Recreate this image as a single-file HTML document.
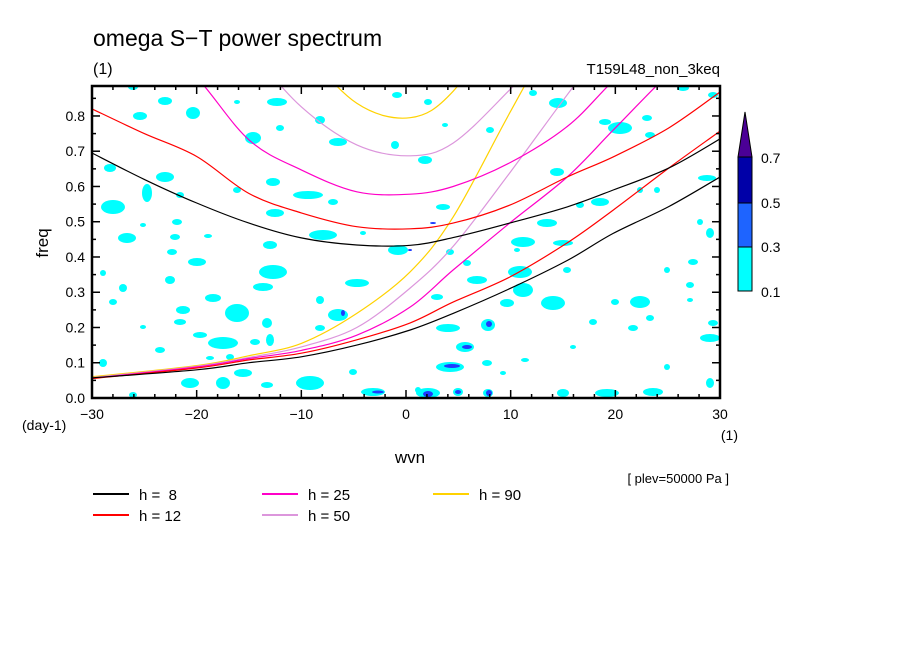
<!DOCTYPE html>
<html><head><meta charset="utf-8">
<style>
html,body{margin:0;padding:0;background:#fff;}
svg{display:block;font-family:"Liberation Sans",sans-serif;}
</style></head>
<body>
<svg id="chart" width="904" height="654" viewBox="0 0 904 654" xmlns="http://www.w3.org/2000/svg">
<defs><clipPath id="plotclip"><rect x="92" y="86" width="628" height="312"/></clipPath></defs>
<rect x="0" y="0" width="904" height="654" fill="#fff"/>
<text x="93" y="46" font-size="23">omega S−T power spectrum</text>
<text x="93" y="74" font-size="16">(1)</text>
<text x="720" y="74" font-size="15" text-anchor="end">T159L48_non_3keq</text>
<g id="blobs" clip-path="url(#plotclip)"></g>
<g id="curves" clip-path="url(#plotclip)"></g>
<g id="axes"></g>
<text transform="translate(48,243) rotate(-90)" font-size="17" text-anchor="middle">freq</text>
<text x="22" y="430" font-size="14">(day-1)</text>
<text x="410" y="463" font-size="17" text-anchor="middle">wvn</text>
<text x="738" y="440" font-size="14" text-anchor="end">(1)</text>
<text x="729" y="483" font-size="13" text-anchor="end">[ plev=50000 Pa ]</text>
<g id="colorbar">
<polygon points="738,157 752,157 745,112" fill="#4b0096" stroke="#000"/>
<rect x="738" y="157" width="14" height="46" fill="#0000a8" stroke="#000"/>
<rect x="738" y="203" width="14" height="44" fill="#1e64ff" stroke="#000"/>
<rect x="738" y="247" width="14" height="44" fill="#00ffff" stroke="#000"/>
<text x="761" y="163" font-size="14">0.7</text>
<text x="761" y="208" font-size="14">0.5</text>
<text x="761" y="252" font-size="14">0.3</text>
<text x="761" y="297" font-size="14">0.1</text>
</g>
<g id="legend"></g>
</svg>
<script>
const NS="http://www.w3.org/2000/svg";
// axis ranges
const xTicks=[-30,-20,-10,0,10,20,30];
const yTicks=[0.0,0.1,0.2,0.3,0.4,0.5,0.6,0.7,0.8];
const X0=92,X1=720,Y0=398,Y1=86;
const xMin=-30,xMax=30,yMin=0,yMax=0.885;
function xs(k){return X0+(k-xMin)/(xMax-xMin)*(X1-X0);}
function ys(f){return Y0-(f-yMin)/(yMax-yMin)*(Y0-Y1);}
// dispersion curves data (wavenumber, frequency)
const igK=[-30,-25,-20,-15,-10,-4.7,0.4,4.5,9.9,15.4,19.8,25.1,30];
const h8_ig=[0.695,0.62,0.553,0.496,0.454,0.434,0.433,0.455,0.496,0.542,0.59,0.652,0.735];
const h12_ig=[0.82,0.75,0.685,0.58,0.525,0.486,0.48,0.496,0.547,0.627,0.684,0.766,0.868];
const h25_ig=[1.2,1.05,0.91,0.732,0.647,0.585,0.578,0.6,0.667,0.77,0.9,1.05,1.2];
const h50_ig=[1.5,1.3,1.15,0.99,0.826,0.718,0.687,0.723,0.874,1.05,1.2,1.35,1.5];
const h90_ig=[1.8,1.6,1.4,1.2,1.0,0.836,0.795,0.87,1.1,1.3,1.5,1.7,1.8];
const kvK=[-30,-20,-15,-10,-4.7,0.4,4.5,9.9,15.4,19.8,25.1,30];
const h8_kv=[0.057,0.08,0.1,0.117,0.15,0.193,0.24,0.31,0.39,0.467,0.543,0.627];
const h12_kv=[0.055,0.085,0.108,0.127,0.165,0.213,0.272,0.343,0.44,0.533,0.652,0.757];
const h25_kv=[0.056,0.088,0.112,0.135,0.178,0.258,0.363,0.496,0.627,0.76,0.92,1.05];
const h50_kv=[0.058,0.09,0.115,0.145,0.2,0.312,0.43,0.638,0.86,1.03,1.2,1.35];
const h90_kv=[0.06,0.092,0.12,0.155,0.24,0.358,0.513,0.808,1.1,1.3,1.5,1.7];
const seriesNames=['h8','h12','h25','h50','h90'];
const seriesLabels=['h =  8','h = 12','h = 25','h = 50','h = 90'];
const seriesColors=['#000000','#ff0000','#ff00c8','#dc96dc','#ffd200'];
const igData=[h8_ig,h12_ig,h25_ig,h50_ig,h90_ig];
const kvData=[h8_kv,h12_kv,h25_kv,h50_kv,h90_kv];

// contour blobs (decorative contour field: cx, cy in px, rx, ry)
const blobs=[[133,87,5,3],[165,101,7,4],[140,116,7,4],[193,113,7,6],[237,102,3,2],[253,138,8,6],[280,128,4,3],[277,102,10,4],[320,120,5,4],[338,142,9,4],[397,95,5,3],[395,145,4,4],
[110,168,6,4],[165,177,9,5],[147,193,5,9],[113,207,12,7],[180,195,4,3],[273,182,7,4],[237,190,4,3],[308,195,15,4],[275,213,9,4],[333,202,5,3],[143,225,3,2],[177,222,5,3],[127,238,9,5],[175,237,5,3],[208,236,4,2],[270,245,7,4],[323,235,14,5],[363,233,3,2],[398,250,10,5],
[172,252,5,3],[197,262,9,4],[273,272,14,7],[103,273,3,3],[170,280,5,4],[263,287,10,4],[357,283,12,4],[123,288,4,4],[113,302,4,3],[213,298,8,4],[320,300,4,4],[183,310,7,4],[237,313,12,9],[267,323,5,5],[338,315,10,6],[143,327,3,2],[180,322,6,3],[320,328,5,3],[200,335,7,3],[223,343,15,6],[255,342,5,3],[270,340,4,6],[160,350,5,3],[103,363,4,4],[210,358,4,2],[230,357,4,3],[243,373,9,4],[310,383,14,7],[190,383,9,5],[223,383,7,6],[267,385,6,3],[373,392,12,4],[133,395,4,3],[353,372,4,3],
[558,103,9,5],[533,93,4,3],[683,88,6,3],[713,95,5,3],[428,102,4,3],[605,122,6,3],[647,118,5,3],[620,128,12,6],[650,135,5,3],[490,130,4,3],[445,125,3,2],[425,160,7,4],[557,172,7,4],[707,178,9,3],[640,190,3,3],[443,207,7,3],[600,202,9,4],[657,190,3,3],[580,205,4,3],[547,223,10,4],[710,233,4,5],[700,222,3,3],[523,242,12,5],[563,243,10,3],[402,250,3,4],[450,252,4,3],[517,250,3,2],[467,263,4,3],[520,272,12,6],[567,270,4,3],[667,270,3,3],[693,262,5,3],[477,280,10,4],[523,290,10,7],[437,297,6,3],[690,285,4,3],[507,303,7,4],[553,303,12,7],[640,302,10,6],[615,302,4,3],[690,300,3,2],
[488,325,7,6],[448,328,12,4],[593,322,4,3],[650,318,4,3],[713,323,5,3],[633,328,5,3],[710,338,10,4],[465,347,9,5],[450,367,14,5],[487,363,5,3],[525,360,4,2],[667,367,3,3],[710,383,4,5],[428,393,12,5],[458,392,5,4],[488,393,5,4],[563,393,6,4],[607,393,12,4],[653,392,10,4],[573,347,3,2],[503,373,3,2],[418,390,3,3]];
const darkSpots=[[428,394,5,3],[458,392,3,2],[489,393,3,3],[467,347,5,2],[452,366,8,2],[489,324,3,3],[378,392,6,1.5],[343,313,2,3],[410,250,2,1],[433,223,3,1]];
const gB=document.getElementById('blobs');
blobs.forEach(b=>{
  const e=document.createElementNS(NS,'ellipse');
  e.setAttribute('cx',b[0]);e.setAttribute('cy',b[1]);e.setAttribute('rx',b[2]);e.setAttribute('ry',b[3]);
  e.setAttribute('fill','#00ffff');
  
  
  gB.appendChild(e);
});
darkSpots.forEach(b=>{
  const e=document.createElementNS(NS,'ellipse');
  e.setAttribute('cx',b[0]);e.setAttribute('cy',b[1]);e.setAttribute('rx',b[2]);e.setAttribute('ry',b[3]);
  e.setAttribute('fill','#1e3cff');
  
  
  gB.appendChild(e);
});

// curves (smoothed with Catmull-Rom)
const gC=document.getElementById('curves');
function drawLine(ks,vals,color,name){
  const P=ks.map((k,i)=>[xs(k),ys(vals[i])]);
  let d='M'+P[0][0].toFixed(1)+','+P[0][1].toFixed(1);
  for(let i=0;i<P.length-1;i++){
    const p0=P[i-1]||P[i],p1=P[i],p2=P[i+1],p3=P[i+2]||P[i+1];
    const c1=[p1[0]+(p2[0]-p0[0])/6,p1[1]+(p2[1]-p0[1])/6];
    const c2=[p2[0]-(p3[0]-p1[0])/6,p2[1]-(p3[1]-p1[1])/6];
    d+=' C'+c1[0].toFixed(1)+','+c1[1].toFixed(1)+' '+c2[0].toFixed(1)+','+c2[1].toFixed(1)+' '+p2[0].toFixed(1)+','+p2[1].toFixed(1);
  }
  const p=document.createElementNS(NS,'path');
  p.setAttribute('d',d);
  p.setAttribute('fill','none');p.setAttribute('stroke',color);p.setAttribute('stroke-width','1.2');
  
  
  gC.appendChild(p);
}
for(let i=seriesNames.length-1;i>=0;i--){
  drawLine(igK,igData[i],seriesColors[i],seriesNames[i]+'-ig-curve');
  drawLine(kvK,kvData[i],seriesColors[i],seriesNames[i]+'-kelvin-curve');
}

// axes
const gA=document.getElementById('axes');
function ln(x1,y1,x2,y2,w,name){
  const l=document.createElementNS(NS,'line');
  l.setAttribute('x1',x1);l.setAttribute('y1',y1);l.setAttribute('x2',x2);l.setAttribute('y2',y2);
  l.setAttribute('stroke','#000');l.setAttribute('stroke-width',w);
  
  
  gA.appendChild(l);
}
const fr=document.createElementNS(NS,'rect');
fr.setAttribute('x',X0);fr.setAttribute('y',Y1);fr.setAttribute('width',X1-X0);fr.setAttribute('height',Y0-Y1);
fr.setAttribute('fill','none');fr.setAttribute('stroke','#000');fr.setAttribute('stroke-width','2.5');


gA.appendChild(fr);
for(let k=-30;k<=30;k+=2){
  const major=(k%10===0);const L=major?8:4;
  ln(xs(k),Y0,xs(k),Y0-L,1.5,'x-tick');
  ln(xs(k),Y1,xs(k),Y1+L,1.5,'x-tick');
}
for(let f=0;f<=0.881;f+=0.05){
  const major=Math.abs(f*10-Math.round(f*10))<1e-6;const L=major?8:4;
  ln(X0,ys(f),X0+L,ys(f),1.5,'y-tick');
  ln(X1,ys(f),X1-L,ys(f),1.5,'y-tick');
}
xTicks.forEach(k=>{
  const t=document.createElementNS(NS,'text');
  t.setAttribute('x',xs(k));t.setAttribute('y',419);t.setAttribute('font-size','14');t.setAttribute('text-anchor','middle');
  t.textContent=(k<0?'−'+(-k):String(k));
  
  
  gA.appendChild(t);
});
yTicks.forEach(f=>{
  const t=document.createElementNS(NS,'text');
  t.setAttribute('x',85);t.setAttribute('y',ys(f)+5);t.setAttribute('font-size','14');t.setAttribute('text-anchor','end');
  t.textContent=f.toFixed(1);
  
  
  gA.appendChild(t);
});

// legend
const gL=document.getElementById('legend');
const legPos=[[93,494],[93,515],[262,494],[262,515],[433,494]];
seriesNames.forEach((n,i)=>{
  const [x,y]=legPos[i];
  const l=document.createElementNS(NS,'line');
  l.setAttribute('x1',x);l.setAttribute('y1',y);l.setAttribute('x2',x+36);l.setAttribute('y2',y);
  l.setAttribute('stroke',seriesColors[i]);l.setAttribute('stroke-width','2');
  
  
  gL.appendChild(l);
  const t=document.createElementNS(NS,'text');
  t.setAttribute('x',x+46);t.setAttribute('y',y+6);t.setAttribute('font-size','15');
  t.style.whiteSpace='pre';
  t.textContent=seriesLabels[i];
  
  
  gL.appendChild(t);
});
</script>
</body></html>
